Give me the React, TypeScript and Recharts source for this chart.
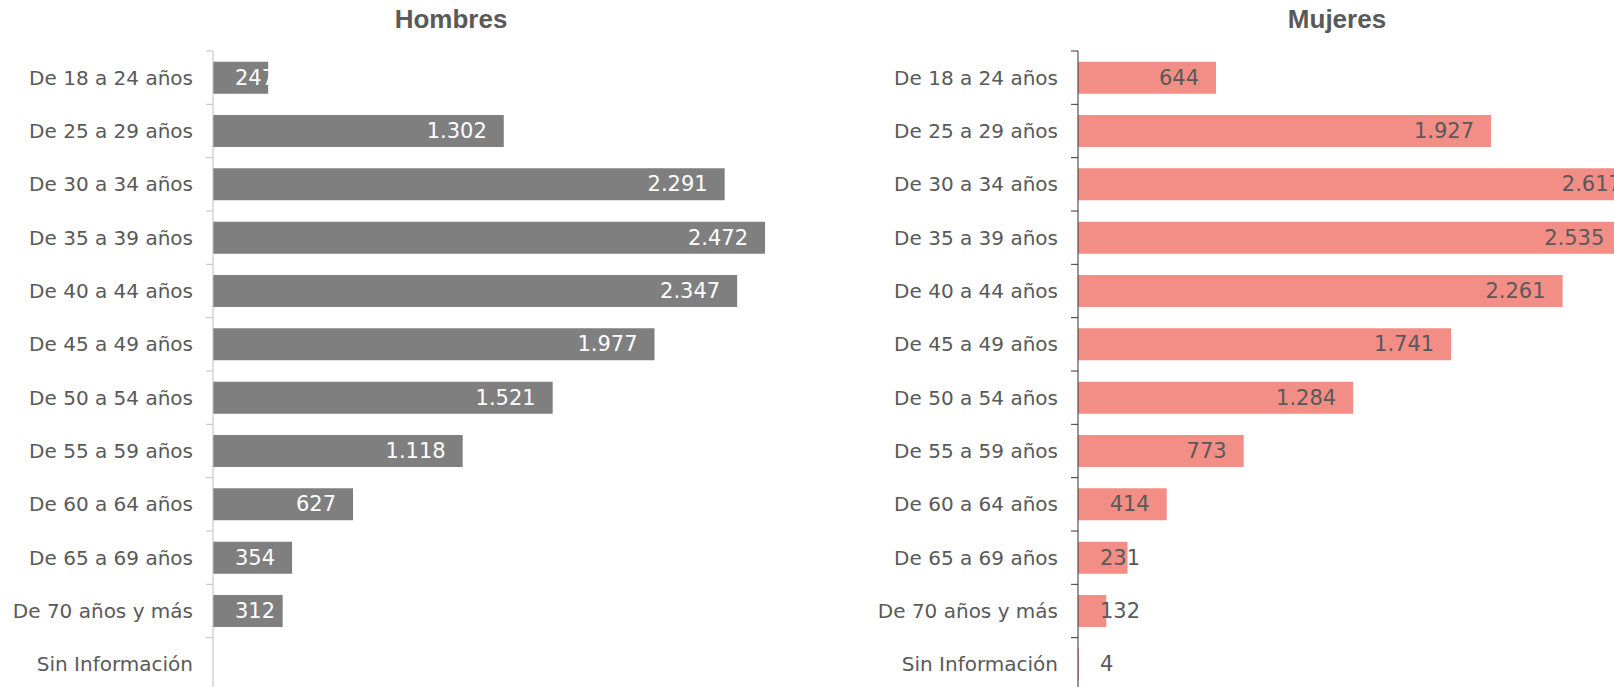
import { Bar, BarChart, LabelList, XAxis, YAxis } from "recharts"

const categories = [
  "De 18 a 24 años",
  "De 25 a 29 años",
  "De 30 a 34 años",
  "De 35 a 39 años",
  "De 40 a 44 años",
  "De 45 a 49 años",
  "De 50 a 54 años",
  "De 55 a 59 años",
  "De 60 a 64 años",
  "De 65 a 69 años",
  "De 70 años y más",
  "Sin Información",
]

const hombres = [247, 1302, 2291, 2472, 2347, 1977, 1521, 1118, 627, 354, 312, null]
const mujeres = [644, 1927, 2617, 2535, 2261, 1741, 1284, 773, 414, 231, 132, 4]

const FONT = "'DejaVu Sans', sans-serif"
const TEXT = "#595959"
const PLOT_TOP = 51
const PLOT_H = 640
const BAND = PLOT_H / categories.length

const data = categories.map((name, i) => ({ name, hombres: hombres[i], mujeres: mujeres[i] }))

const fmt = (v: number) => v.toLocaleString("de-DE")

let ctx: CanvasRenderingContext2D | null = null
function measure(text: string, size: number) {
  if (!ctx) ctx = document.createElement("canvas").getContext("2d")
  if (!ctx) return text.length * size * 0.6
  ctx.font = `${size}px "DejaVu Sans"`
  return ctx.measureText(text).width
}

function makeValueLabel(color: string) {
  return (props: any) => {
    const { x, y, width, height, value } = props
    if (value == null) return null
    const text = fmt(Number(value))
    const tw = measure(text, 21)
    const right = Math.max(x + width - 17, x + 22 + tw)
    return (
      <text
        x={right}
        y={y + height / 2}
        textAnchor="end"
        dominantBaseline="central"
        fill={color}
        fontSize={21}
        fontFamily={FONT}
      >
        {text}
      </text>
    )
  }
}

function makeTick(lineColor: string) {
  return (props: any) => {
    const { x, y, payload, index } = props
    return (
      <g>
        <text
          x={x - 20}
          y={y}
          textAnchor="end"
          dominantBaseline="central"
          fill={TEXT}
          fontSize={20}
          fontFamily={FONT}
        >
          {payload.value}
        </text>
        <line x1={x - 7} x2={x} y1={y - BAND / 2} y2={y - BAND / 2} stroke={lineColor} />
        {index === categories.length - 1 && (
          <line x1={x - 7} x2={x} y1={y + BAND / 2} y2={y + BAND / 2} stroke={lineColor} />
        )}
      </g>
    )
  }
}

interface PanelProps {
  dataKey: string
  left: number
  axisWidth: number
  plotWidth: number
  fill: string
  labelColor: string
  axisColor: string
}

function Panel({ dataKey, left, axisWidth, plotWidth, fill, labelColor, axisColor }: PanelProps) {
  return (
    <div style={{ position: "absolute", left, top: 0 }}>
      <BarChart
        width={axisWidth + plotWidth}
        height={PLOT_TOP + PLOT_H + 9}
        data={data}
        layout="vertical"
        barCategoryGap="20%"
        margin={{ top: PLOT_TOP, right: 0, bottom: 9, left: 0 }}
      >
        <XAxis type="number" domain={[0, 3000]} hide />
        <YAxis
          type="category"
          dataKey="name"
          width={axisWidth}
          axisLine={{ stroke: axisColor }}
          tickLine={false}
          tickSize={0}
          tickMargin={0}
          interval={0}
          tick={makeTick(axisColor)}
        />
        <Bar dataKey={dataKey} fill={fill} isAnimationActive={false}>
          <LabelList dataKey={dataKey} content={makeValueLabel(labelColor)} />
        </Bar>
      </BarChart>
    </div>
  )
}

const titleStyle = {
  position: "absolute" as const,
  top: 6,
  width: 300,
  textAlign: "center" as const,
  fontFamily: "'Liberation Sans', Arial, sans-serif",
  fontWeight: 700,
  fontSize: 26,
  lineHeight: "26px",
  color: TEXT,
}

export default function App() {
  return (
    <div
      style={{
        position: "absolute",
        left: 0,
        top: 0,
        width: 1614,
        height: 687,
        overflow: "hidden",
        background: "#fff",
      }}
    >
      <Panel
        dataKey="hombres"
        left={0}
        axisWidth={213}
        plotWidth={670}
        fill="#7F7F7F"
        labelColor="#FFFFFF"
        axisColor="#BFBFBF"
      />
      <Panel
        dataKey="mujeres"
        left={860}
        axisWidth={218}
        plotWidth={643}
        fill="#F28E86"
        labelColor={TEXT}
        axisColor="#333333"
      />
      <div style={{ ...titleStyle, left: 451 - 150 }}>Hombres</div>
      <div style={{ ...titleStyle, left: 1337 - 150 }}>Mujeres</div>
    </div>
  )
}
